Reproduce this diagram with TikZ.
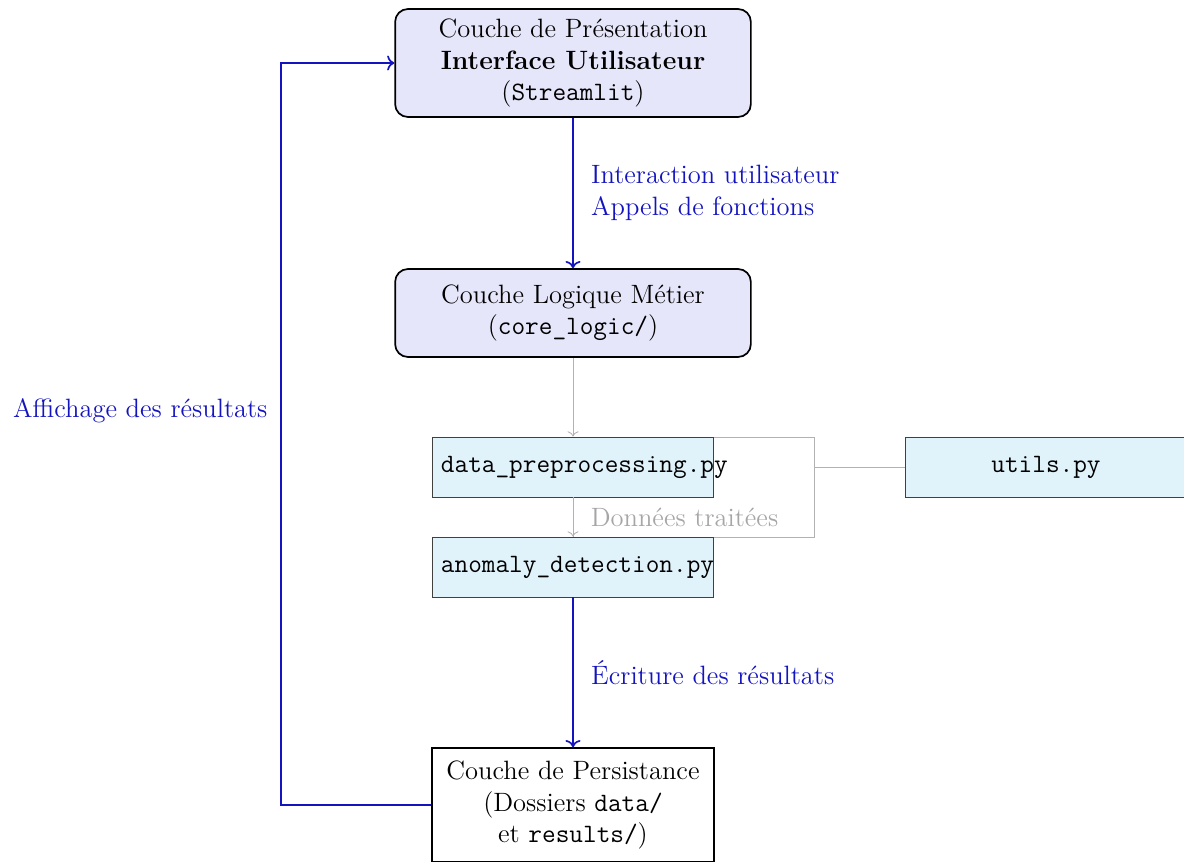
\documentclass[tikz,border=0pt,12pt]{standalone}
\usepackage{fontspec}
\setmonofont{lmmono12-regular.otf}
\usetikzlibrary{arrows.meta}
\definecolor{layerfill}{RGB}{230,230,250}
\definecolor{modfill}{RGB}{224,242,250}
\definecolor{flowblue}{RGB}{20,20,190}
\tikzset{
  layer/.style={draw=black, thick, rounded corners=6pt, fill=layerfill,
    minimum width=167pt, align=center},
  module/.style={draw=black!75, fill=modfill, minimum height=28.2pt,
    text width=124pt, align=center, font=\ttfamily},
  store/.style={draw=black, thick, minimum width=132.4pt, minimum height=53.5pt,
    align=center},
  flow/.style={draw=flowblue, thick, ->},
  flowlabel/.style={text=flowblue, align=left},
  dep/.style={draw=black!30, thin},
}
\begin{document}
\fontsize{12.45}{15}\selectfont
\begin{tikzpicture}[x=0.4695pt, y=-0.4695pt]
\useasboundingbox (0,0) rectangle (1184,861);

% layers
\node[layer, minimum height=50.7pt] (pres) at (573,63)
  {Couche de Présentation\\\textbf{Interface Utilisateur}\\(\texttt{Streamlit})};
\node[layer, minimum height=41.3pt] (logic) at (573,313)
  {Couche Logique Métier\\(\texttt{core\_logic/})};

% frame linking the processing modules to the helpers
\coordinate (coreNW) at (573,437);
\coordinate (coreE) at (814,467);
\coordinate (coreSE) at (814,537);
\draw[dep] (coreNW) rectangle (coreSE);

\node[module] (prep) at (573,467) {data\_preprocessing.py};
\node[module] (anom) at (573,567) {anomaly\_detection.py};
\node[module] (utils) at (1046,467) {utils.py};

\node[store] (pers) at (573,805)
  {Couche de Persistance\\(Dossiers \texttt{data/}\\et \texttt{results/})};

% internal dependencies
\draw[dep, ->] (logic.south) -- (prep.north);
\draw[dep, ->] (prep.south) -- node[right, xshift=4pt, text=black!35] {Données traitées} (anom.north);
\draw[dep] (utils.west) -- (coreE);

% main flows
\draw[flow] (pres.south) -- node[flowlabel, right, xshift=4pt]
  {Interaction utilisateur\\Appels de fonctions} (logic.north);
\draw[flow] (anom.south) -- node[flowlabel, right, xshift=4pt]
  {Écriture des résultats} (pers.north);

\coordinate (loop) at (281,411);
\draw[flow] (pers.west) -| (loop) |- (pres.west);
\node[text=flowblue, left, xshift=-2pt] at (loop) {Affichage des résultats};
\end{tikzpicture}
\end{document}
